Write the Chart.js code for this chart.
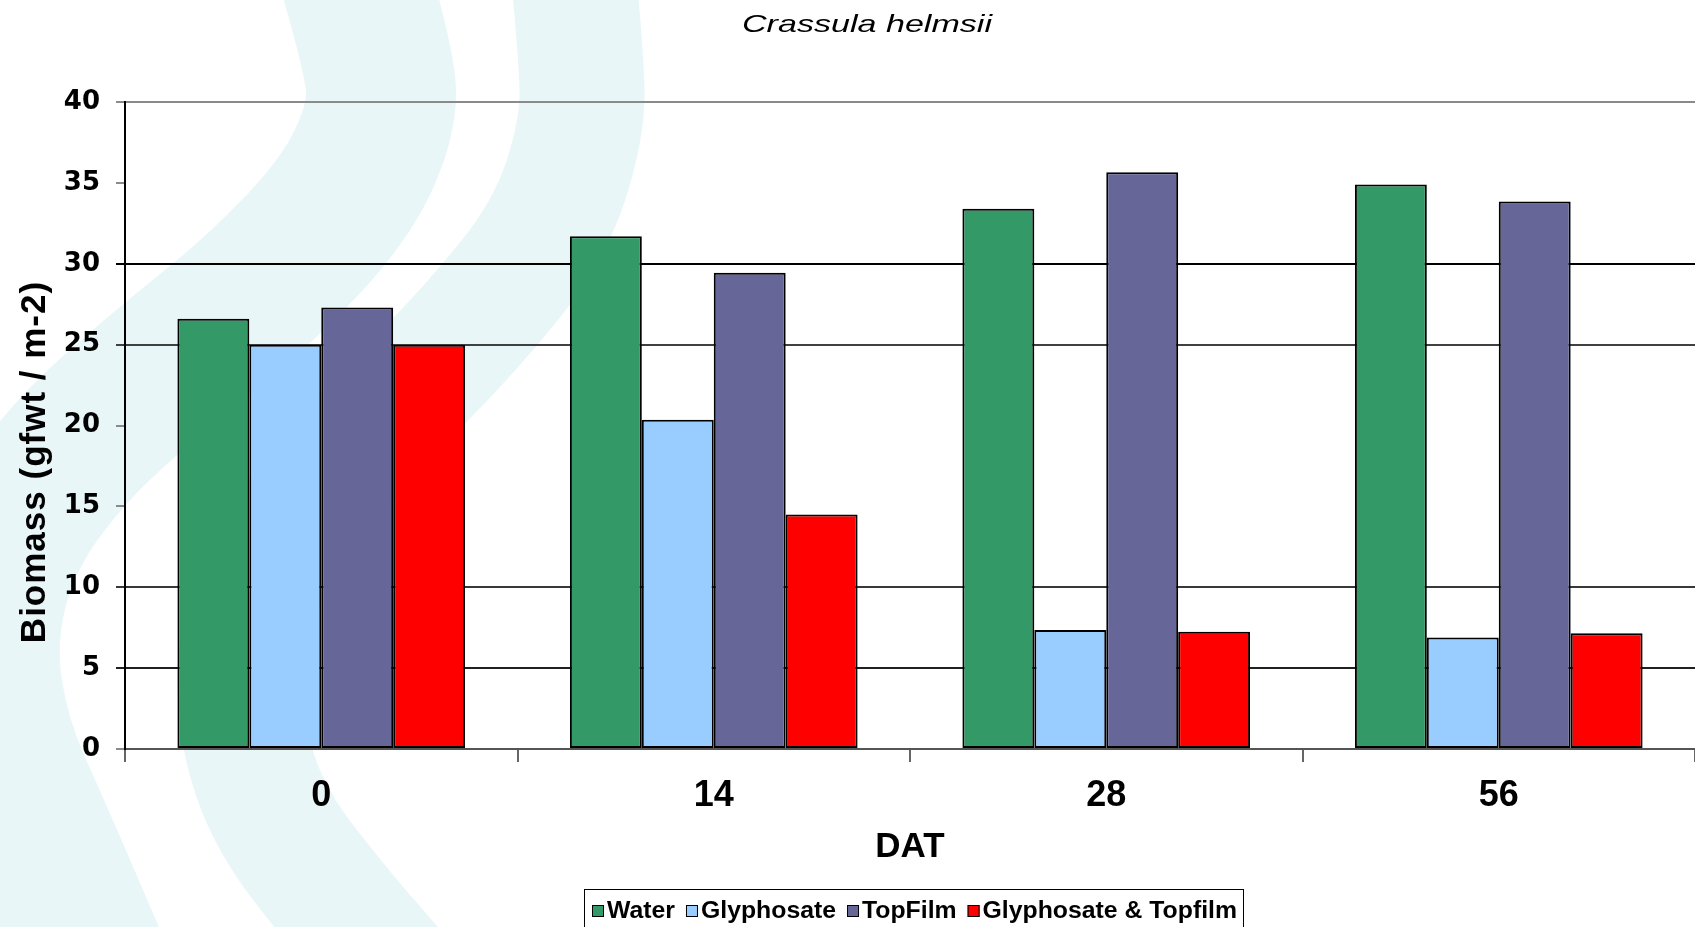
<!DOCTYPE html>
<html>
<head>
<meta charset="utf-8">
<script src="https://cdn.jsdelivr.net/npm/chart.js@4.4.1/dist/chart.umd.min.js"></script>
<style>
  html, body { margin: 0; padding: 0; background: #ffffff; }
  #wrap { width: 1695px; height: 927px; position: relative; overflow: hidden; }
  canvas { display: block; }
</style>
</head>
<body>
<div id="wrap"><canvas id="chart" width="1695" height="927"></canvas></div>
<script>
// Days after treatment (DAT)
const categories = ['0', '14', '28', '56'];

// Biomass, g fresh weight per m2
const water        = [26.6, 31.7, 33.4, 34.9];
const glyphosate   = [25.0, 20.35, 7.35, 6.9];
const topFilm      = [27.3, 29.45, 35.65, 33.85];
const glyphTopfilm = [25.0, 14.5, 7.25, 7.15];

const seriesNames  = ['Water', 'Glyphosate', 'TopFilm', 'Glyphosate & Topfilm'];
const seriesColors = ['#339966', '#99ccff', '#666699', '#ff0000'];

const yMin = 0, yMax = 40, yStep = 5;

const chartTitle = 'Crassula helmsii';
const xTitle = 'DAT';
const yTitle = 'Biomass (gfwt / m-2)';

// horizontal rule colours per y value
const gridColorByValue = {
  40: '#8a8a8a', 35: 'rgba(0,0,0,0)', 30: '#000000', 25: '#404040',
  20: 'rgba(0,0,0,0)', 15: 'rgba(0,0,0,0)', 10: '#383838', 5: '#202020', 0: 'rgba(0,0,0,0)'
};

const SANS = '"Liberation Sans", Arial, sans-serif';

// soft background ribbons of the slide
function smoothPath(ctx, pts) {
  ctx.beginPath();
  ctx.moveTo(pts[0][0], pts[0][1]);
  for (let i = 1; i < pts.length - 1; i++) {
    const mx = (pts[i][0] + pts[i + 1][0]) / 2;
    const my = (pts[i][1] + pts[i + 1][1]) / 2;
    ctx.quadraticCurveTo(pts[i][0], pts[i][1], mx, my);
  }
  const last = pts[pts.length - 1];
  ctx.lineTo(last[0], last[1]);
}

const backdrop = {
  id: 'backdrop',
  beforeDraw(chart) {
    const ctx = chart.ctx;
    ctx.save();
    ctx.fillStyle = '#ffffff';
    ctx.fillRect(0, 0, chart.width, chart.height);
    ctx.strokeStyle = '#e9f6f8';
    ctx.lineCap = 'butt';
    ctx.lineJoin = 'round';
    ctx.lineWidth = 150;
    smoothPath(ctx, [[350, -40], [380, 60], [382, 120], [345, 200], [260, 290], [160, 370],
      [70, 450], [5, 540], [-20, 640], [-5, 740], [40, 840], [100, 980]]);
    ctx.stroke();
    ctx.lineWidth = 125;
    smoothPath(ctx, [[572, -40], [582, 60], [582, 130], [550, 230], [470, 330], [370, 430],
      [285, 530], [240, 630], [240, 730], [270, 820], [340, 910], [410, 990]]);
    ctx.stroke();
    ctx.restore();
  }
};

const annotations = {
  id: 'annotations',
  afterDraw(chart) {
    const ctx = chart.ctx;
    ctx.save();
    ctx.fillStyle = '#000000';

    // chart title
    ctx.save();
    ctx.translate(867, 32);
    ctx.scale(1.42, 1);
    ctx.font = 'italic 24px ' + SANS;
    ctx.textAlign = 'center';
    ctx.textBaseline = 'alphabetic';
    ctx.fillText(chartTitle, 0, 0);
    ctx.restore();

    // y axis title
    ctx.save();
    ctx.translate(45, 462);
    ctx.rotate(-Math.PI / 2);
    ctx.font = 'bold 35px ' + SANS;
    ctx.letterSpacing = '1px';
    ctx.textAlign = 'center';
    ctx.textBaseline = 'alphabetic';
    ctx.fillText(yTitle, 0, 0);
    ctx.restore();

    // legend
    ctx.save();
    ctx.lineWidth = 1;
    ctx.strokeStyle = '#000000';
    ctx.strokeRect(584.5, 889.5, 659, 60);
    ctx.font = 'bold 24.8px ' + SANS;
    ctx.textBaseline = 'middle';
    ctx.textAlign = 'left';
    let x = 592;
    const cy = 911;
    chart.data.datasets.forEach(ds => {
      ctx.fillStyle = ds.backgroundColor;
      ctx.fillRect(x, cy - 6, 12, 12);
      ctx.strokeRect(x + 0.5, cy - 5.5, 11, 11);
      ctx.fillStyle = '#000000';
      ctx.fillText(ds.label, x + 15, cy);
      x += 15 + ctx.measureText(ds.label).width + 11;
    });
    ctx.restore();

    ctx.restore();
  }
};

const series = [water, glyphosate, topFilm, glyphTopfilm];

new Chart(document.getElementById('chart'), {
  type: 'bar',
  data: {
    labels: categories,
    datasets: series.map((vals, i) => ({
      label: seriesNames[i],
      data: vals,
      backgroundColor: seriesColors[i],
      borderColor: '#000000',
      borderWidth: 2,
      borderSkipped: false,
      categoryPercentage: 0.733,
      barPercentage: 1.0
    }))
  },
  options: {
    responsive: false,
    animation: false,
    devicePixelRatio: 1,
    layout: { padding: { top: 102, right: 0, bottom: 0, left: 0 } },
    plugins: {
      legend: { display: false },
      title: { display: false },
      tooltip: { enabled: false }
    },
    scales: {
      x: {
        offset: true,
        afterFit(scale) { scale.height = 178; },
        grid: {
          offset: true,
          drawOnChartArea: false,
          drawTicks: true,
          tickLength: 13,
          tickColor: '#666666',
          lineWidth: 2
        },
        border: { display: true, color: '#555555', width: 2 },
        ticks: {
          color: '#000000',
          padding: 12,
          font: { family: SANS, size: 36, weight: 'bold' }
        },
        title: {
          display: true,
          text: xTitle,
          color: '#000000',
          font: { family: SANS, size: 35, weight: 'bold' },
          padding: { top: 0, bottom: 59 }
        }
      },
      y: {
        min: yMin,
        max: yMax,
        afterFit(scale) { scale.width = 125; },
        ticks: {
          stepSize: yStep,
          color: '#000000',
          padding: 16,
          font: { family: '"DejaVu Sans", sans-serif', size: 26, weight: 'bold' }
        },
        grid: {
          lineWidth: 2,
          tickLength: 9,
          color: ctx => gridColorByValue[ctx.tick ? ctx.tick.value : 0] || 'rgba(0,0,0,0)',
          tickColor: ctx => {
            const c = gridColorByValue[ctx.tick ? ctx.tick.value : 0];
            return (!c || c.startsWith('rgba')) ? '#8a8a8a' : c;
          }
        },
        border: { display: true, color: '#000000', width: 2 }
      }
    }
  },
  plugins: [backdrop, annotations]
});
</script>
</body>
</html>
